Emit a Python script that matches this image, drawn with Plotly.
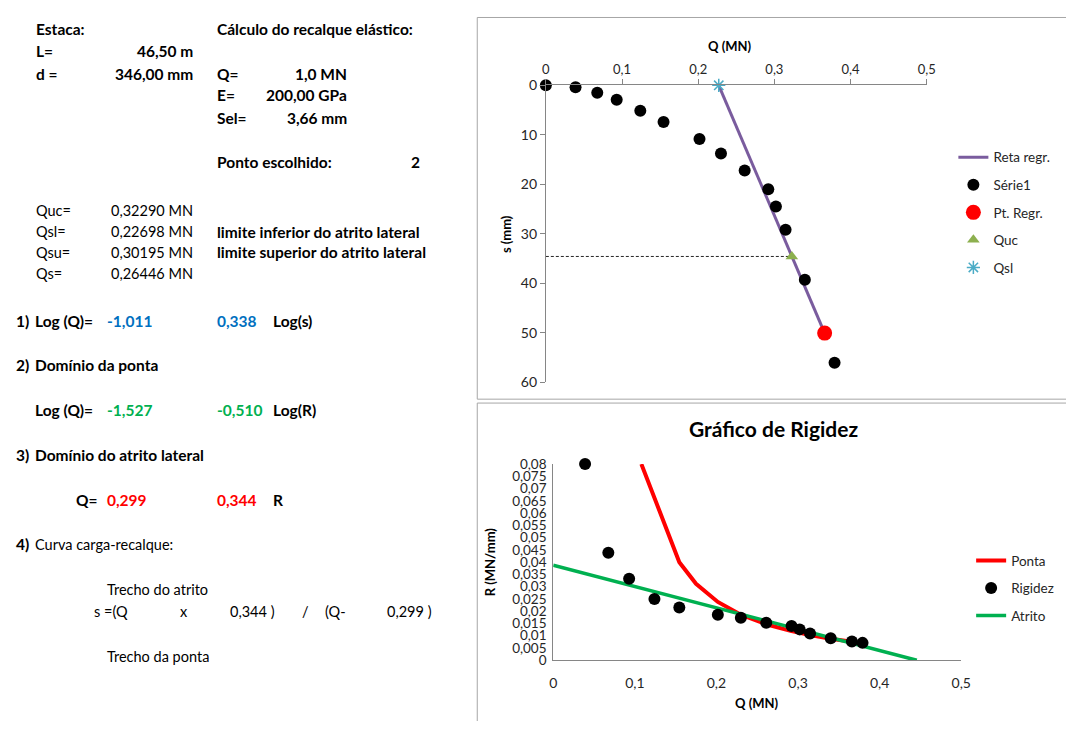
import plotly.graph_objects as go

# The page body keeps the browser's default 8 px margin, so the figure is
# 16 px smaller than the window and every layout position is shifted by 8 px.
PAGE_W, PAGE_H = 1074, 729
OFF = 8
W, H = PAGE_W - 2 * OFF, PAGE_H - 2 * OFF
FONT = "Lato"

# ---------------- data ----------------
# Curva carga-recalque (top chart)
Q_carga = [0, 0.039, 0.0675, 0.093, 0.124, 0.1545, 0.2017, 0.2299, 0.261, 0.292, 0.302, 0.3147, 0.340, 0.366, 0.379]
s_carga = [0, 0.4, 1.5, 2.9, 5.15, 7.4, 10.85, 13.8, 17.2, 21.0, 24.5, 29.2, 39.3, 50.1, 56.1]
Q_pt_regr = [0.366]
s_pt_regr = [50.1]
Q_quc = [0.3229]
s_quc = [34.6]
Q_qsl = [0.22698]
s_qsl = [0]
Q_reta = [0.22698, 0.366]
s_reta = [0, 50.1]
Q_dash = [0, 0.3229]
s_dash = [34.6, 34.6]

# Gráfico de Rigidez (bottom chart)
Q_rig = [0.039, 0.0675, 0.093, 0.124, 0.1545, 0.2017, 0.2299, 0.261, 0.292, 0.302, 0.3147, 0.340, 0.366, 0.379]
R_rig = [0.080, 0.0438, 0.0332, 0.025, 0.0215, 0.0186, 0.0173, 0.0153, 0.0140, 0.0126, 0.0109, 0.0090, 0.0077, 0.0071]
Q_ponta = [0.108, 0.1545, 0.175, 0.2017, 0.2299, 0.261, 0.292, 0.302, 0.3147, 0.340, 0.366]
R_ponta = [0.080, 0.0400, 0.0312, 0.0238, 0.0186, 0.0147, 0.0119, 0.0111, 0.0103, 0.0088, 0.0076]
Q_atrito = [0, 0.4455]
R_atrito = [0.0388, 0]

x_ticks = [0, 0.1, 0.2, 0.3, 0.4, 0.5]
x_ticktext = ["0", "0,1", "0,2", "0,3", "0,4", "0,5"]
s_ticks = [0, 10, 20, 30, 40, 50, 60]
R_ticks = [i * 0.005 for i in range(17)]
R_ticktext = ["0", "0,005", "0,01", "0,015", "0,02", "0,025", "0,03", "0,035", "0,04",
              "0,045", "0,05", "0,055", "0,06", "0,065", "0,07", "0,075", "0,08"]


def px(x):
    return (x - OFF) / W


def py(y):
    return 1 - (y - OFF) / H


fig = go.Figure()

# ---- top chart traces ----
fig.add_trace(go.Scatter(x=Q_dash, y=s_dash, mode="lines", line=dict(color="#262626", width=1, dash="3px,2px"),
                         showlegend=False, xaxis="x", yaxis="y", hoverinfo="skip"))
fig.add_trace(go.Scatter(x=Q_reta, y=s_reta, mode="lines", name="Reta regr.", line=dict(color="#7A5C9E", width=3),
                         xaxis="x", yaxis="y", legend="legend", legendgroup="a"))
fig.add_trace(go.Scatter(x=Q_carga, y=s_carga, mode="markers", name="Série1", marker=dict(color="black", size=12),
                         xaxis="x", yaxis="y", legend="legend", legendgroup="b", cliponaxis=False))
fig.add_trace(go.Scatter(x=Q_pt_regr, y=s_pt_regr, mode="markers", name="Pt. Regr.", marker=dict(color="#FF0000", size=15),
                         xaxis="x", yaxis="y", legend="legend", legendgroup="c", cliponaxis=False))
fig.add_trace(go.Scatter(x=Q_quc, y=s_quc, mode="markers", name="Quc",
                         marker=dict(color="#8DB04F", size=11, symbol="triangle-up"),
                         xaxis="x", yaxis="y", legend="legend", legendgroup="d", cliponaxis=False))
fig.add_trace(go.Scatter(x=Q_qsl, y=s_qsl, mode="markers", name="Qsl",
                         marker=dict(color="#4BACC6", size=11, symbol="asterisk-open", line=dict(color="#4BACC6", width=1.5)),
                         xaxis="x", yaxis="y", legend="legend", legendgroup="e", cliponaxis=False))

# ---- bottom chart traces ----
fig.add_trace(go.Scatter(x=Q_ponta, y=R_ponta, mode="lines", name="Ponta", line=dict(color="#FF0000", width=4),
                         xaxis="x2", yaxis="y2", legend="legend2", legendgroup="f", legendrank=1, cliponaxis=False))
fig.add_trace(go.Scatter(x=Q_atrito, y=R_atrito, mode="lines", name="Atrito", line=dict(color="#00B050", width=3.5),
                         xaxis="x2", yaxis="y2", legend="legend2", legendgroup="h", legendrank=3, cliponaxis=False))
fig.add_trace(go.Scatter(x=Q_rig, y=R_rig, mode="markers", name="Rigidez", marker=dict(color="black", size=12),
                         xaxis="x2", yaxis="y2", legend="legend2", legendgroup="g", legendrank=2, cliponaxis=False))

axcol = "#868686"
tcol = "#262626"

fig.update_layout(
    width=W, height=H,
    margin=dict(l=0, r=0, t=0, b=0),
    paper_bgcolor="white", plot_bgcolor="white",
    font=dict(family=FONT, color="black"),
    separators=",.",
    xaxis=dict(domain=[px(549), px(935)], range=[0, 0.5], side="top", anchor="y",
               tickvals=x_ticks, ticktext=x_ticktext, showgrid=False, zeroline=False,
               showline=True, linecolor=axcol, linewidth=1, ticks="outside", ticklen=5, tickcolor=axcol,
               tickfont=dict(family=FONT, size=13, color=tcol)),
    yaxis=dict(domain=[py(382), py(78)], range=[60, 0], anchor="x",
               tickvals=s_ticks, showgrid=False, zeroline=False,
               showline=True, linecolor=axcol, linewidth=1, ticks="outside", ticklen=5, tickcolor=axcol,
               tickfont=dict(family=FONT, size=14, color=tcol)),
    xaxis2=dict(domain=[px(556.5), px(970)], range=[0, 0.5], anchor="y2",
                tickvals=x_ticks, ticktext=x_ticktext, showgrid=False, zeroline=False,
                showline=True, linecolor=axcol, linewidth=1, ticks="", ticklabelstandoff=10,
                tickfont=dict(family=FONT, size=14, color=tcol)),
    yaxis2=dict(domain=[py(667), py(466)], range=[0, 0.08], anchor="x2",
                tickvals=R_ticks, ticktext=R_ticktext, showgrid=False, zeroline=False,
                showline=True, linecolor=axcol, linewidth=1, ticks="", ticklabelstandoff=3,
                tickfont=dict(family=FONT, size=13.5, color=tcol)),
    legend=dict(x=px(962), y=py(136), xanchor="left", yanchor="top", bgcolor="rgba(0,0,0,0)",
                font=dict(family=FONT, size=13.5, color=tcol), tracegroupgap=7, itemwidth=30),
    legend2=dict(x=px(980), y=py(549), xanchor="left", yanchor="top", bgcolor="rgba(0,0,0,0)",
                 font=dict(family=FONT, size=13.5, color=tcol), tracegroupgap=7, itemwidth=30),
)

# chart frames (right / bottom edges fall outside the window, as in the reference)
fig.add_shape(type="rect", xref="paper", yref="paper", x0=px(479.5), x1=px(1090), y0=py(399.5), y1=py(8.5),
              line=dict(color="#A6A6A6", width=1))
fig.add_shape(type="rect", xref="paper", yref="paper", x0=px(479.5), x1=px(1090), y0=py(760), y1=py(403.5),
              line=dict(color="#A6A6A6", width=1))

annots = []


def txt(x, y, t, anchor="left", bold=False, color="black", size=None, angle=0):
    if size is None:
        size = 15.5 if bold else 14.5
    s = f"<b>{t}</b>" if bold else t
    annots.append(dict(x=px(x), y=py(y), xref="paper", yref="paper", text=s, showarrow=False,
                       xanchor=anchor, yanchor="middle", textangle=angle,
                       font=dict(family=FONT, size=size, color=color)))


# axis titles & chart title
txt(736, 38, "Q (MN)", anchor="center", bold=True, size=13)
txt(508, 230, "s (mm)", anchor="center", bold=True, size=13, angle=-90)
txt(780, 430, "Gráfico de Rigidez", anchor="center", bold=True, size=21)
txt(763, 711, "Q (MN)", anchor="center", bold=True, size=13)
txt(492, 566, "R (MN/mm)", anchor="center", bold=True, size=13, angle=-90)

# left spreadsheet text
txt(30, 20, "Estaca:", bold=True)
txt(214, 20, "Cálculo do recalque elástico:", bold=True)
txt(30, 43, "L=", bold=True)
txt(193, 43, "46,50 m", anchor="right", bold=True)
txt(30, 66, "d =", bold=True)
txt(193, 66, "346,00 mm", anchor="right", bold=True)
txt(214, 66, "Q=", bold=True)
txt(350, 66, "1,0 MN", anchor="right", bold=True)
txt(214, 88, "E=", bold=True)
txt(350, 88, "200,00 GPa", anchor="right", bold=True)
txt(214, 111, "Sel=", bold=True)
txt(350, 111, "3,66 mm", anchor="right", bold=True)
txt(214, 157, "Ponto escolhido:", bold=True)
txt(424, 157, "2", anchor="right", bold=True)

txt(30, 206, "Quc=")
txt(193, 206, "0,32290 MN", anchor="right")
txt(30, 228, "Qsl=")
txt(193, 228, "0,22698 MN", anchor="right")
txt(214, 228, "limite inferior do atrito lateral", bold=True)
txt(30, 249, "Qsu=")
txt(193, 249, "0,30195 MN", anchor="right")
txt(214, 249, "limite superior do atrito lateral", bold=True)
txt(30, 271, "Qs=")
txt(193, 271, "0,26446 MN", anchor="right")

blue = "#0070C0"
green = "#00B050"
red = "#FF0000"
txt(10, 319, "1)", bold=True)
txt(29, 319, "Log (Q)=", bold=True)
txt(102, 319, "-1,011", bold=True, color=blue)
txt(214, 319, "0,338", bold=True, color=blue)
txt(270, 319, "Log(s)", bold=True)

txt(10, 365, "2)", bold=True)
txt(29, 365, "Domínio da ponta", bold=True)
txt(29, 411, "Log (Q)=", bold=True)
txt(102, 411, "-1,527", bold=True, color=green)
txt(214, 411, "-0,510", bold=True, color=green)
txt(270, 411, "Log(R)", bold=True)

txt(10, 457, "3)", bold=True)
txt(29, 457, "Domínio do atrito lateral", bold=True)
txt(97, 503, "Q=", anchor="right", bold=True)
txt(102, 503, "0,299", bold=True, color=red)
txt(214, 503, "0,344", bold=True, color=red)
txt(270, 503, "R", bold=True)

txt(10, 548, "4)", bold=True)
txt(29, 548, "Curva carga-recalque:")
txt(102, 594, "Trecho do atrito")
txt(89, 617, "s =(Q")
txt(176, 617, "x")
txt(227, 617, "0,344 )")
txt(300, 617, "/")
txt(323, 617, "(Q-")
txt(386, 617, "0,299 )")
txt(102, 663, "Trecho da ponta")

fig.update_layout(annotations=annots)

fig.write_html("out.html", config={"displayModeBar": False})
